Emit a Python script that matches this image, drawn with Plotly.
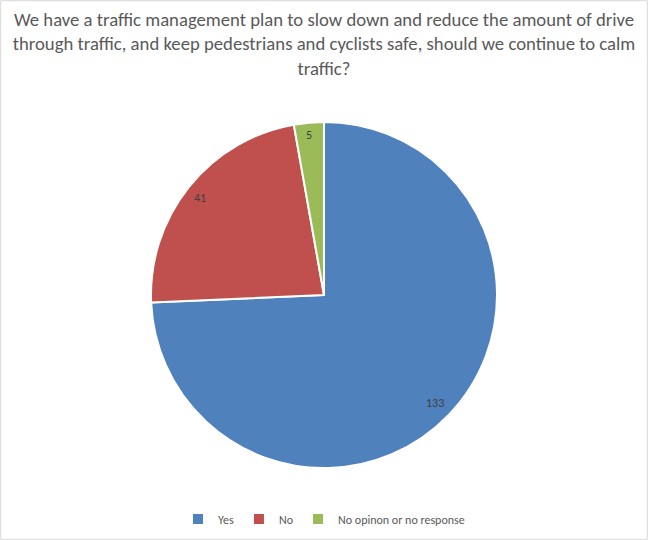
import math
import plotly.graph_objects as go

# Données
reponses = ["Yes", "No", "No opinon or no response"]
nombres = [133, 41, 5]
couleurs = ["#4F81BD", "#C0504D", "#9BBB59"]

titre = ("We have a traffic management plan to slow down and reduce the amount of drive<br>"
         "through traffic, and keep pedestrians and cyclists safe, should we continue to calm<br>"
         "traffic?")

W, H = 648, 540
T, B = 122, 72
police = "Carlito, Liberation Sans Narrow, DejaVu Sans Condensed, Liberation Sans, sans-serif"

fig = go.Figure(go.Pie(
    labels=reponses,
    values=nombres,
    marker=dict(colors=couleurs, line=dict(color="white", width=2)),
    sort=False,
    direction="clockwise",
    rotation=0,
    textinfo="none",
    hoverinfo="label+value",
    domain=dict(x=[0, 1], y=[0, 1]),
))

# étiquettes des valeurs, placées vers le bord de chaque part
total = sum(nombres)
diam = H - T - B
cumul = 0
for n in nombres:
    angle = (cumul + n / 2) / total * 2 * math.pi
    cumul += n
    r = 0.49 * diam
    fig.add_annotation(
        x=0.5 + r * math.sin(angle) / W,
        y=0.5 + r * math.cos(angle) / diam,
        xref="paper", yref="paper",
        text=str(n), showarrow=False,
        font=dict(size=12, color="#404040", family=police),
    )

# cadre gris autour du graphique
fig.add_shape(
    type="rect", xref="paper", yref="paper",
    x0=0.001, x1=0.999, y0=-B / diam + 0.002, y1=1 + T / diam - 0.002,
    line=dict(color="#D9D9D9", width=1),
)

fig.update_layout(
    width=W, height=H,
    margin=dict(l=0, r=0, t=T, b=B),
    paper_bgcolor="white",
    title=dict(text=titre, x=0.5, xanchor="center", y=1 - 26 / H, yanchor="top",
               font=dict(size=18.7, color="#595959", family=police)),
    legend=dict(orientation="h", x=0.5, xanchor="center", y=(H - 519 - B) / diam,
                yanchor="middle", font=dict(size=12, color="#595959", family=police),
                itemwidth=30),
)

fig.write_html("out.html", config={"displayModeBar": False},
               post_script="document.body.style.margin = '0';")
